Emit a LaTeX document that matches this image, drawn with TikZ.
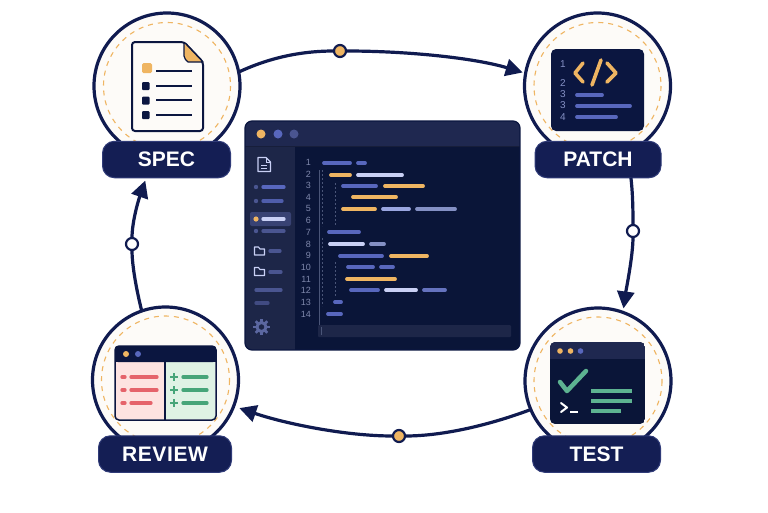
\documentclass[tikz,border=0pt]{standalone}
\usepackage{fontspec}
\setmainfont{Liberation Sans}
\usetikzlibrary{arrows.meta}
\definecolor{navy}{HTML}{101B50}
\definecolor{pillfill}{HTML}{141E54}
\definecolor{pilledge}{HTML}{303B78}
\definecolor{ink}{HTML}{0B1640}
\definecolor{amber}{HTML}{EFB562}
\definecolor{discfill}{HTML}{FDFBF8}
\definecolor{winbg}{HTML}{0A1538}
\definecolor{winbar}{HTML}{1F2850}
\definecolor{winside}{HTML}{1D2648}
\definecolor{blue1}{HTML}{5867BD}
\definecolor{blue2}{HTML}{4A5590}
\definecolor{lilac}{HTML}{C9D0F5}
\definecolor{lilac2}{HTML}{9AA6E0}
\definecolor{lilac3}{HTML}{8490C4}
\definecolor{numgrey}{HTML}{7F88AC}
\definecolor{guide}{HTML}{4A5578}
\definecolor{pinkbg}{HTML}{FDE3E1}
\definecolor{greenbg}{HTML}{DFF2E4}
\definecolor{redbar}{HTML}{E5636B}
\definecolor{greenbar}{HTML}{46A578}
\definecolor{mint}{HTML}{5DB391}
\tikzset{
  disc/.style={circle,draw=navy,line width=3.2pt,fill=discfill,minimum size=146pt,inner sep=0pt,outer sep=0pt},
  innerdash/.style={draw=amber,line width=1.1pt,dash pattern=on 5pt off 5pt},
  pill/.style={rectangle,rounded corners=12pt,draw=pilledge,line width=1pt,fill=pillfill,text=white,
    minimum height=36.5pt,inner sep=0pt,outer sep=0pt,font=\fontsize{21}{21}\selectfont\bfseries},
  flow/.style={draw=navy,line width=3.2pt},
  flowtip/.style={flow,-{Triangle[length=17pt,width=17pt]}},
  waydot/.style={circle,draw=navy,line width=2.2pt,minimum size=12pt,inner sep=0pt,outer sep=0pt},
  bar/.style={line width=3.8pt,line cap=round},
  thinbar/.style={line width=3.3pt,line cap=round},
  linenum/.style={anchor=east,text=numgrey,inner sep=0pt,font=\fontsize{9}{9}\selectfont},
  patchnum/.style={text=lilac3,inner sep=0pt,font=\fontsize{10}{10}\selectfont},
}
\begin{document}
\begin{tikzpicture}[x=1pt,y=-1pt]
\useasboundingbox (0,0) rectangle (768,512);
\fill[white] (0,0) rectangle (768,512);

% stage discs and labels
\node[disc] (specdisc) at (167,86) {};
\node[disc] (patchdisc) at (597.5,86) {};
\node[disc] (reviewdisc) at (165.5,380) {};
\node[disc] (testdisc) at (598,381) {};
\draw[innerdash] (specdisc.center) circle (63.5);
\draw[innerdash] (patchdisc.center) circle (63.5);
\draw[innerdash] (reviewdisc.center) circle (64);
\draw[innerdash] (testdisc.center) circle (64);
\node[pill,minimum width=128pt] (specpill) at (166.5,159.5) {SPEC};
\node[pill,minimum width=126pt] (patchpill) at (598,159.5) {PATCH};
\node[pill,minimum width=133pt] (reviewpill) at (165,454) {\addfontfeature{LetterSpace=3}REVIEW};
\node[pill,minimum width=128pt] (testpill) at (596.5,454) {TEST};

% way points
\node[waydot,fill=amber] (d1) at (340,51) {};
\node[waydot,fill=white] (d2) at (633,231) {};
\node[waydot,fill=amber] (d3) at (399,436) {};
\node[waydot,fill=white] (d4) at (132,244) {};

% connectors
\draw[flow] (specdisc.11) .. controls +(30,-14) and +(-40,0) .. (d1);
\draw[flowtip,shorten >=3pt] (d1) .. controls +(70,0) and +(-50,-15) .. (patchdisc.170);
\draw[flow] (patchpill.-29) .. controls +(2,17) and +(0,-17) .. (d2);
\draw[flowtip,shorten >=4pt] (d2) .. controls +(0,25) and +(3,-22) .. (testdisc.70);
\draw[flow] (testdisc.203.6) .. controls +(-40,15) and +(45,0) .. (d3);
\draw[flowtip,shorten >=6pt] (d3) .. controls +(-55,0) and +(50,17) .. (reviewdisc.-21.7);
\draw[flow] (reviewdisc.109) .. controls +(-5,-20) and +(0,22) .. (d4);
\draw[flowtip,shorten >=3pt] (d4) .. controls +(0,-22) and +(-8,23) .. (specpill.-138);

% SPEC icon
\draw[ink,line width=2pt,fill=discfill,rounded corners=3pt,line join=round]
  (132,42) -- (184,42) -- (203,62) -- (203,131) -- (132,131) -- cycle;
\draw[ink,line width=1.2pt,fill=amber,line join=round] (184,42) -- (203,62) -- (188,62) [rounded corners=2pt] -- (184,58) -- cycle;
\fill[amber,rounded corners=1.5pt] (142,63) rectangle (152,73);
\fill[ink,rounded corners=1pt] (142,82) rectangle (149.5,90);
\fill[ink,rounded corners=1pt] (142,96.5) rectangle (149.5,104.5);
\fill[ink,rounded corners=1pt] (142,111) rectangle (149.5,119);
\foreach \y in {71,85.5,100,115} \draw[ink,line width=2pt] (156,\y) -- (192,\y);

% PATCH icon
\fill[ink,rounded corners=5pt] (551,49) rectangle (644,131);
\node[patchnum] (pn1) at (563,64) {1};
\node[patchnum] (pn2) at (563,83) {2};
\node[patchnum] (pn3) at (563,94) {3};
\node[patchnum] (pn4) at (563,105) {3};
\node[patchnum] (pn5) at (563,117) {4};
\draw[amber,line width=3.6pt,line cap=round,line join=round] (583,63) -- (575,73) -- (583,82);
\draw[amber,line width=3.6pt,line cap=round] (601,60) -- (592,85);
\draw[amber,line width=3.6pt,line cap=round,line join=round] (607,63) -- (616,73) -- (607,82);
\draw[bar,blue1] (577,95) -- (602,95);
\draw[bar,blue1] (577,106) -- (630,106);
\draw[bar,blue1] (577,117) -- (616,117);

% REVIEW icon
\fill[pinkbg] (116,360) rectangle (165,419);
\fill[greenbg] (165,360) rectangle (215,419);
\fill[ink,rounded corners=3pt] (115,346) rectangle (216,362);
\fill[ink] (115,356) rectangle (216,362);
\draw[ink,line width=1.5pt,rounded corners=4pt] (115,346) rectangle (216,420);
\draw[ink,line width=1.3pt] (165,362) -- (165,420);
\fill[amber] (126,354) circle (3);
\fill[blue1] (138,354) circle (3);
\foreach \y/\e in {377/157,390/157,403/151}{
  \draw[thinbar,redbar] (122,\y) -- (125,\y);
  \draw[thinbar,redbar] (131,\y) -- (\e,\y);
  \draw[greenbar,line width=2.4pt] (170,\y) -- (178,\y) (174,\y-4) -- (174,\y+4);
}
\foreach \y/\e in {377/207,390/207,403/207} \draw[thinbar,greenbar] (183,\y) -- (\e,\y);

% TEST icon
\begin{scope}
\clip[rounded corners=5pt] (550,342) rectangle (645,424);
\fill[winbg] (550,342) rectangle (645,424);
\fill[winbar] (550,342) rectangle (645,359);
\end{scope}
\fill[amber] (560,351) circle (2.8) (570.5,351) circle (2.8);
\fill[blue1] (580.5,351) circle (2.8);
\draw[mint,line width=4.5pt,line cap=round,line join=round] (560,382) -- (567,391) -- (586,371);
\draw[white,line width=2pt,line cap=round,line join=round] (561,403) -- (567,407.5) -- (561,412);
\draw[white,line width=2pt] (570,412) -- (578,412);
\draw[thinbar,mint,line cap=butt] (591,391) -- (632,391);
\draw[thinbar,mint,line cap=butt] (591,401) -- (632,401);
\draw[thinbar,mint,line cap=butt] (591,411) -- (621,411);

% central editor window
\begin{scope}
\clip[rounded corners=7pt] (245,121) rectangle (520,350);
\fill[winbg] (245,121) rectangle (520,350);
\fill[winside] (245,146) rectangle (295,350);
\fill[winbar] (245,121) rectangle (520,146);
\draw[black!20!winside,line width=.8pt] (245,146) -- (520,146);
\end{scope}
\draw[ink,line width=1.2pt,rounded corners=7pt] (245,121) rectangle (520,350);
\fill[amber] (261,134) circle (4.5);
\fill[blue1] (278,134) circle (4.5);
\fill[blue2] (294,134) circle (4.5);

% sidebar
\draw[lilac,line width=1.1pt,line join=round] (258,157.5) -- (266,157.5) -- (270.5,162) -- (270.5,171.5) -- (258,171.5) -- cycle;
\draw[lilac,line width=.8pt] (266,157.5) -- (266,162) -- (270.5,162) (261,165) -- (267,165) (261,168) -- (267,168);
\fill[blue2!60!winside,rounded corners=2pt] (250,212) rectangle (291,226);
\fill[blue2] (256,187) circle (2.2);
\fill[blue2] (256,201) circle (2.2);
\fill[amber] (256,219) circle (2.6);
\fill[blue2] (256,231) circle (2.2);
\draw[thinbar,blue1] (263,187) -- (284,187);
\draw[thinbar,blue1!85!winside] (263,201) -- (282,201);
\draw[thinbar,lilac] (263,219) -- (284,219);
\draw[thinbar,blue2] (263,231) -- (284,231);
\foreach \y in {247,267.5}
  \draw[lilac,line width=1.1pt,line join=round] (254.5,\y) -- (258.5,\y) -- (260,\y+2) -- (264.5,\y+2) -- (264.5,\y+8) -- (254.5,\y+8) -- cycle;
\draw[thinbar,blue2] (270,251) -- (280,251);
\draw[thinbar,blue2] (270,272) -- (281,272);
\draw[thinbar,blue2] (256,290) -- (281,290);
\draw[thinbar,blue2!80!winside] (256,303) -- (268,303);
\draw[blue2!70!lilac3,line width=3pt] (261.5,327) circle (4.5);
\foreach \a in {0,45,...,315} \draw[blue2!70!lilac3,line width=2.6pt] (261.5,327) ++(\a:5) -- ++(\a:3.2);

% line numbers
\foreach \n/\y in {1/162,2/174,3/185,4/197,5/208,6/220,7/232,8/244,9/255,10/267,11/279,12/290,13/302,14/314}
  \node[linenum] (ln\n) at (311,\y) {\n};

% indent guides
\draw[guide,line width=.8pt] (319,170) -- (319,330);
\draw[guide,line width=.8pt,dash pattern=on 2pt off 2pt] (322,170) -- (322,226) (322,238) -- (322,306);
\draw[guide,line width=.8pt,dash pattern=on 2pt off 2pt] (335,183) -- (335,226) (335,262) -- (335,296);

% code
\draw[bar,blue1] (324,163) -- (350,163);
\draw[bar,blue1] (358,163) -- (365,163);
\draw[bar,amber] (331,175) -- (350,175);
\draw[bar,lilac] (358,175) -- (402,175);
\draw[bar,blue1] (343,186) -- (376,186);
\draw[bar,amber] (385,186) -- (423,186);
\draw[bar,amber] (353,197) -- (396,197);
\draw[bar,amber] (343,209) -- (375,209);
\draw[bar,lilac2] (383,209) -- (409,209);
\draw[bar,lilac3] (417,209) -- (455,209);
\draw[bar,blue1] (329,232) -- (359,232);
\draw[bar,lilac] (330,244) -- (363,244);
\draw[bar,lilac3] (371,244) -- (384,244);
\draw[bar,blue1] (340,256) -- (382,256);
\draw[bar,amber] (391,256) -- (427,256);
\draw[bar,blue1] (348,267) -- (373,267);
\draw[bar,blue1] (381,267) -- (393,267);
\draw[bar,amber] (347,279) -- (395,279);
\draw[bar,blue1] (351,290) -- (378,290);
\draw[bar,lilac] (386,290) -- (416,290);
\draw[bar,blue1!70!lilac3] (424,290) -- (445,290);
\draw[bar,blue1] (335,302) -- (341,302);
\draw[bar,blue1] (328,314) -- (341,314);

% input line
\fill[winside,rounded corners=1pt] (318,325) rectangle (511,337);
\draw[guide,line width=.8pt] (321,327) -- (321,335);
\end{tikzpicture}
\end{document}
